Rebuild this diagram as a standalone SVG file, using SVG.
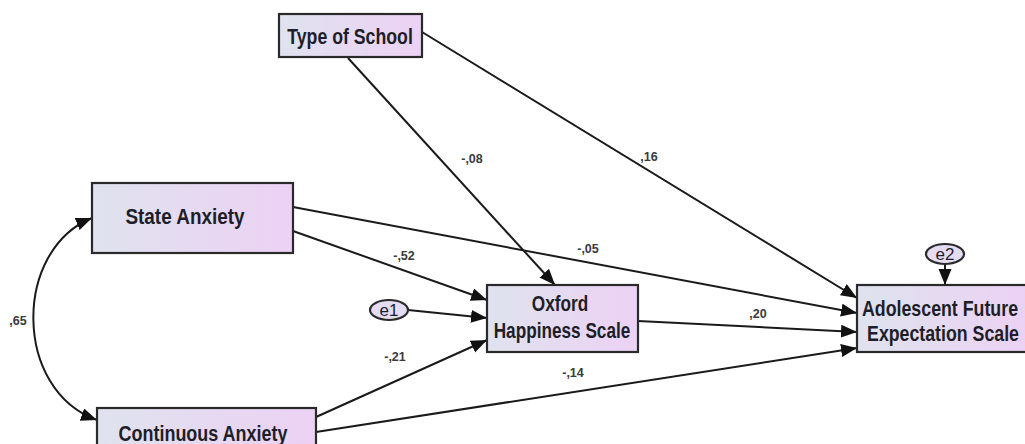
<svg xmlns="http://www.w3.org/2000/svg" width="1025" height="444" viewBox="0 0 1025 444">
<defs>
<linearGradient id="fill" x1="0" y1="0" x2="1" y2="0">
<stop offset="0" stop-color="#dfe3ee"/>
<stop offset="1" stop-color="#ecd1f4"/>
</linearGradient>
<marker id="arr" markerUnits="userSpaceOnUse" markerWidth="18" markerHeight="14" refX="16" refY="6.5" orient="auto-start-reverse">
<path d="M0,0 L16,6.5 L0,13 z" fill="#111"/>
</marker>
</defs>
<style>
.box{fill:url(#fill);stroke:#2a2a2a;stroke-width:2.2}
.err{fill:#e6dcf2;stroke:#2a2a2a;stroke-width:2.2}
.t{font-family:"Liberation Sans",Arial,sans-serif;font-weight:bold;font-size:21.5px;fill:#1e1e28;text-anchor:middle;dominant-baseline:central}
.e{font-family:"Liberation Sans",Arial,sans-serif;font-size:17px;fill:#1e1e28;text-anchor:middle;dominant-baseline:central}
.lbl{font-family:"Liberation Sans",Arial,sans-serif;font-weight:bold;font-size:12.5px;fill:#3a3a3a;text-anchor:middle;dominant-baseline:central}
.c{fill:none;stroke:#1a1a1a;stroke-width:2;marker-end:url(#arr)}
</style>
<g id="connectors">
<path class="c" d="M348,58 L555,285"/>
<path class="c" d="M422,32 L857,298"/>
<path class="c" d="M293,207 L857,313"/>
<path class="c" d="M293,231 L487,300"/>
<path class="c" d="M408,310 L487,318"/>
<path class="c" d="M316,417 L487,340"/>
<path class="c" d="M316,432 L857,348"/>
<path class="c" d="M638,321 L857,332"/>
<path class="c" d="M945,264 L945,285"/>
<path class="c" style="marker-start:url(#arr)" d="M92,218 C13,250 13,390 97,420"/>
<text class="lbl" x="472" y="159">-,08</text>
<text class="lbl" x="649" y="157">,16</text>
<text class="lbl" x="404" y="256">-,52</text>
<text class="lbl" x="588" y="249">-,05</text>
<text class="lbl" x="758" y="314">,20</text>
<text class="lbl" x="395" y="357">-,21</text>
<text class="lbl" x="573" y="373">-,14</text>
<text class="lbl" x="18" y="321">,65</text>
</g>
<g id="type-of-school">
<rect class="box" x="279" y="14" width="143" height="43"/>
<text class="t" transform="translate(350,36) scale(0.824,1)">Type of School</text>
</g>
<g id="state-anxiety">
<rect class="box" x="92" y="183" width="201" height="70"/>
<text class="t" transform="translate(185,217) scale(0.88,1)">State Anxiety</text>
</g>
<g id="continuous-anxiety">
<rect class="box" x="97" y="408" width="219" height="70"/>
<text class="t" transform="translate(203,433) scale(0.836,1)">Continuous Anxiety</text>
</g>
<g id="oxford">
<rect class="box" x="487" y="285" width="151" height="67"/>
<text class="t" transform="translate(560,303) scale(0.8,1)">Oxford</text>
<text class="t" transform="translate(562,330) scale(0.8,1)">Happiness Scale</text>
</g>
<g id="adolescent">
<rect class="box" x="857" y="285" width="175" height="67"/>
<text class="t" transform="translate(940,308) scale(0.827,1)">Adolescent Future</text>
<text class="t" transform="translate(943,333) scale(0.826,1)">Expectation Scale</text>
</g>
<g id="e1">
<ellipse class="err" cx="389" cy="310" rx="19" ry="10"/>
<text class="e" x="389" y="310">e1</text>
</g>
<g id="e2">
<ellipse class="err" cx="945" cy="254" rx="19" ry="10"/>
<text class="e" x="945" y="254">e2</text>
</g>
</svg>
